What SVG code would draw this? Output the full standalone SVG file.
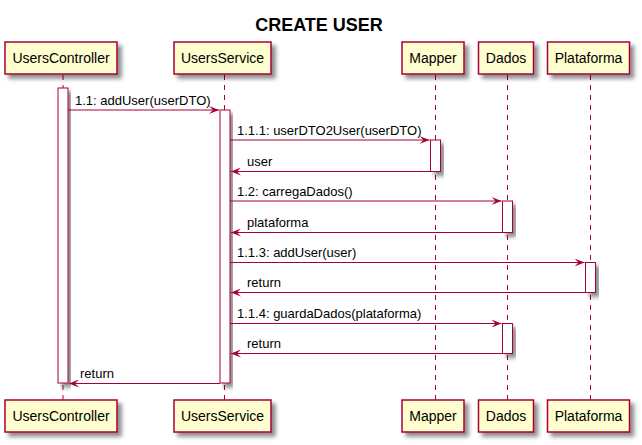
<svg xmlns="http://www.w3.org/2000/svg" width="642" height="445" viewBox="0 0 642 445">
<defs>
<filter id="sh" x="-20%" y="-20%" width="150%" height="150%">
<feGaussianBlur in="SourceAlpha" stdDeviation="2" result="b"/>
<feOffset in="b" dx="4" dy="4" result="o"/>
<feColorMatrix in="o" type="matrix" values="0 0 0 0 0  0 0 0 0 0  0 0 0 0 0  0 0 0 0.45 0" result="c"/>
<feMerge><feMergeNode in="c"/><feMergeNode in="SourceGraphic"/></feMerge>
</filter>
<marker id="ar" markerWidth="10" markerHeight="8" refX="10" refY="4" orient="auto" markerUnits="userSpaceOnUse">
<polygon points="0,0 10,4 0,8 4,4" fill="#A80036"/>
</marker>
</defs>
<style>
.box{fill:#FEFECE;stroke:#A80036;stroke-width:1.5}
.act{fill:#FFFFFF;stroke:#A80036;stroke-width:1}
.life{stroke:#A80036;stroke-width:1;stroke-dasharray:5,5}
.msg{stroke:#A80036;stroke-width:1;fill:none}
.pt{font-family:"Liberation Sans",Arial,sans-serif;font-size:14px;fill:#000;text-anchor:middle}
.mt{font-family:"Liberation Sans",Arial,sans-serif;font-size:13px;fill:#000}
.title{font-family:"Liberation Sans",Arial,sans-serif;font-size:18px;font-weight:bold;fill:#000;text-anchor:middle}
</style>
<rect width="642" height="445" fill="#FFFFFF"/>
<text class="title" x="319" y="31">CREATE USER</text>
<g id="lifelines">
<line class="life" x1="63" y1="75" x2="63" y2="400"/>
<line class="life" x1="224.5" y1="75" x2="224.5" y2="400"/>
<line class="life" x1="435.5" y1="75" x2="435.5" y2="400"/>
<line class="life" x1="507.5" y1="75" x2="507.5" y2="400"/>
<line class="life" x1="590.5" y1="75" x2="590.5" y2="400"/>
</g>
<g id="UsersController">
<rect class="box" x="5" y="42" width="112" height="32" filter="url(#sh)"/>
<text class="pt" x="61" y="63">UsersController</text>
<rect class="box" x="5" y="400" width="112" height="32" filter="url(#sh)"/>
<text class="pt" x="61" y="421">UsersController</text>
<rect class="act" x="58" y="88" width="10" height="295" filter="url(#sh)"/>
</g>
<g id="UsersService">
<rect class="box" x="174" y="42" width="97" height="32" filter="url(#sh)"/>
<text class="pt" x="222.5" y="63">UsersService</text>
<rect class="box" x="174" y="400" width="97" height="32" filter="url(#sh)"/>
<text class="pt" x="222.5" y="421">UsersService</text>
<rect class="act" x="220" y="110" width="10" height="273" filter="url(#sh)"/>
</g>
<g id="Mapper">
<rect class="box" x="402" y="42" width="62" height="32" filter="url(#sh)"/>
<text class="pt" x="433" y="63">Mapper</text>
<rect class="box" x="402" y="400" width="62" height="32" filter="url(#sh)"/>
<text class="pt" x="433" y="421">Mapper</text>
<rect class="act" x="430.5" y="140" width="10" height="31.5" filter="url(#sh)"/>
</g>
<g id="Dados">
<rect class="box" x="478.5" y="42" width="55" height="32" filter="url(#sh)"/>
<text class="pt" x="506" y="63">Dados</text>
<rect class="box" x="478.5" y="400" width="55" height="32" filter="url(#sh)"/>
<text class="pt" x="506" y="421">Dados</text>
<rect class="act" x="502.5" y="201" width="10" height="31.5" filter="url(#sh)"/>
<rect class="act" x="502.5" y="323.5" width="10" height="30" filter="url(#sh)"/>
</g>
<g id="Plataforma">
<rect class="box" x="547.5" y="42" width="82" height="32" filter="url(#sh)"/>
<text class="pt" x="588.5" y="63">Plataforma</text>
<rect class="box" x="547.5" y="400" width="82" height="32" filter="url(#sh)"/>
<text class="pt" x="588.5" y="421">Plataforma</text>
<rect class="act" x="585.5" y="262.5" width="10" height="30" filter="url(#sh)"/>
</g>
<g id="connectors">
<line class="msg" x1="68" y1="110" x2="219" y2="110" marker-end="url(#ar)"/>
<text class="mt" x="75" y="105">1.1: addUser(userDTO)</text>
<line class="msg" x1="230" y1="140" x2="429.5" y2="140" marker-end="url(#ar)"/>
<text class="mt" x="237" y="135">1.1.1: userDTO2User(userDTO)</text>
<line class="msg" x1="430.5" y1="171.5" x2="231" y2="171.5" marker-end="url(#ar)"/>
<text class="mt" x="247" y="166">user</text>
<line class="msg" x1="230" y1="201" x2="501.5" y2="201" marker-end="url(#ar)"/>
<text class="mt" x="237" y="196">1.2: carregaDados()</text>
<line class="msg" x1="502.5" y1="232.5" x2="231" y2="232.5" marker-end="url(#ar)"/>
<text class="mt" x="247" y="227">plataforma</text>
<line class="msg" x1="230" y1="262.5" x2="584.5" y2="262.5" marker-end="url(#ar)"/>
<text class="mt" x="237" y="257">1.1.3: addUser(user)</text>
<line class="msg" x1="585.5" y1="292.5" x2="231" y2="292.5" marker-end="url(#ar)"/>
<text class="mt" x="247" y="287">return</text>
<line class="msg" x1="230" y1="323.5" x2="501.5" y2="323.5" marker-end="url(#ar)"/>
<text class="mt" x="237" y="318">1.1.4: guardaDados(plataforma)</text>
<line class="msg" x1="502.5" y1="353.5" x2="231" y2="353.5" marker-end="url(#ar)"/>
<text class="mt" x="247" y="348">return</text>
<line class="msg" x1="220" y1="383.5" x2="69" y2="383.5" marker-end="url(#ar)"/>
<text class="mt" x="80" y="378">return</text>
</g>
</svg>
